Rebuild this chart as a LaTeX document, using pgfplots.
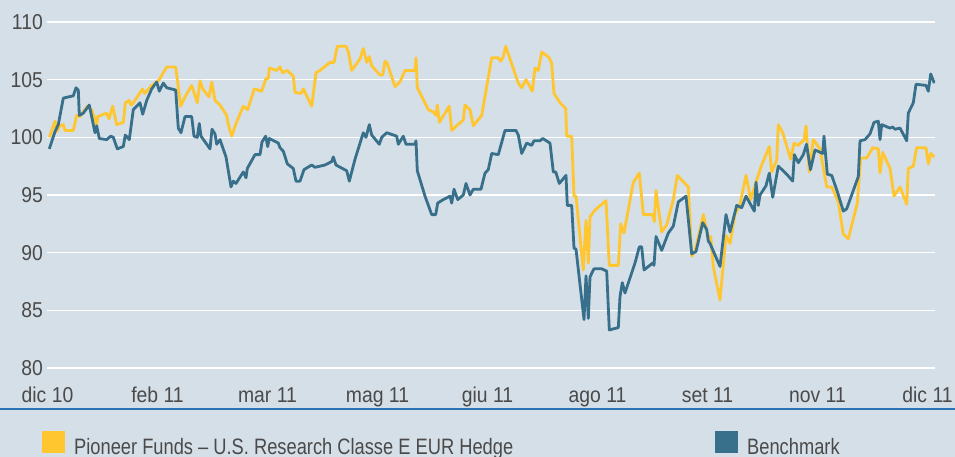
\documentclass[border=0pt]{standalone}
\usepackage{pgfplots}
\pgfplotsset{compat=1.18}
\usepackage{fontspec}
\setmainfont{Liberation Sans}[FakeStretch=0.9]
\newfontfamily\legfam{Liberation Sans}[FakeStretch=0.82]
\definecolor{bg}{HTML}{D5DFE7}
\definecolor{fundyellow}{HTML}{FFC62F}
\definecolor{benchblue}{HTML}{386F8A}
\definecolor{textgray}{HTML}{4A4A4A}
\definecolor{rulecol}{HTML}{2A73B5}
\newcommand{\tickfont}{\fontsize{21.5pt}{24pt}\selectfont}
\newcommand{\legfont}{\legfam\fontsize{22.3pt}{26pt}\selectfont}
\begin{document}
\begin{tikzpicture}
\useasboundingbox (0,0) rectangle (955pt,457pt);
\fill[bg] (0,0) rectangle (955pt,457pt);
\draw[rulecol, line width=1.1pt] (0,48pt) -- (955pt,48pt);
\begin{axis}[
  at={(47.5pt,89pt)}, anchor=south west,
  scale only axis, width=887.5pt, height=346pt,
  xmin=47.5, xmax=935, ymin=80, ymax=110,
  axis line style={draw=none},
  major tick length=0pt, tick style={draw=none},
  ytick={80,85,90,95,100,105,110},
  yticklabels={80,85,90,95,100,105,110},
  xtick={47.5,157.5,267.5,377.5,487.5,597.5,707.5,817.5,927.5},
  xticklabels={dic 10,feb 11,mar 11,mag 11,giu 11,ago 11,set 11,nov 11,dic 11},
  ymajorgrids, grid style={white, line width=1.6pt},
  ticklabel style={font=\tickfont, text=textgray},
  yticklabel style={anchor=east, inner sep=0pt, xshift=-4.5pt},
  xticklabel style={anchor=north, inner sep=0pt, text height=15pt, text depth=0pt, yshift=-19pt},
  legend columns=2,
  legend cell align=left,
  legend image code/.code={\fill[#1, draw=none] (0pt,-11pt) rectangle (23pt,11pt); \path[draw=none, fill=none] (0pt,0pt) -- (32pt,0pt);},
  legend style={at={(axis description cs:-0.0062,-0.2139)}, anchor=west, draw=none, fill=none, inner sep=0pt, column sep=0pt,
    cells={anchor=west},
    nodes={inner sep=0pt, text height=24pt, text depth=0pt, font=\legfont, text=textgray}},
]
\addplot[color=fundyellow, line width=2.8pt, line join=round] coordinates {
(49.3,100.0)(55,101.4)(56.7,100.5)(60,101.0)(63.3,101.1)(65,100.6)(73.3,100.6)(76.7,101.9)(80,101.8)
(87.3,102.7)(91.7,102.4)(96.7,101.1)(97.7,101.8)(106.7,102.1)(109,101.6)(112.7,102.7)(116.7,101.1)
(123.3,101.3)(125.3,103.0)(129.3,103.2)(131,102.8)(133.3,103.0)(142.7,104.2)(144.7,103.8)(151.7,104.5)
(156.7,104.8)(159.3,105.0)(163.3,105.6)(166.7,106.1)(175.7,106.1)(180.7,102.7)(185,103.5)(191.7,104.5)
(197.3,103.0)(200,104.9)(202.7,104.2)(209,103.5)(211.7,104.8)(215,103.2)(220,102.8)(226.7,101.9)
(228.3,101.1)(231.7,100.1)(236,101.2)(243.3,102.7)(247.7,102.4)(251.7,103.5)(254.3,104.2)(261.7,104.0)
(266,105.1)(268.3,105.1)(269.3,106.0)(276.7,105.8)(280,106.1)(282.7,105.6)(287.3,105.8)(293.3,105.3)
(295,103.9)(301,103.8)(303.3,104.2)(311.7,102.7)(316,105.6)(320,105.8)(330,106.5)(334,106.5)
(337.3,107.9)(346,107.9)(348.3,107.4)(351.7,105.8)(360,106.8)(363.3,107.7)(366.7,106.5)(369.3,107.0)
(371.7,106.2)(380,105.4)(382.7,105.4)(385,106.6)(387.3,106.4)(395,104.4)(400,104.8)(405,105.8)
(415,105.8)(416,106.9)(417.3,104.3)(428.3,102.4)(433.3,102.2)(436,101.9)(437.3,102.8)(439.3,101.3)
(449.3,102.7)(451.7,100.6)(456.7,101.0)(463.3,101.5)(465,102.8)(470,102.4)(473.3,101.0)(481.7,101.9)
(491.7,106.9)(498.3,106.9)(500.7,106.6)(503.3,107.0)(505.7,107.9)(516.7,105.1)(518.3,104.7)(521.7,104.3)
(526,105.0)(532.3,104.0)(535,106.0)(538.3,105.8)(541.7,107.4)(549.3,106.9)(551.7,106.4)(554,103.8)
(560,103.0)(565.7,102.5)(566.7,100.1)(571.7,100.1)(574,94.9)(576,94.9)(583.3,88.5)(586,92.8)
(588.3,89.1)(590,93.1)(595,93.7)(606,94.5)(609.3,88.9)(618.3,88.9)(620.7,92.5)(624,91.7)
(633.3,96.1)(639.3,96.9)(643.3,93.3)(652.7,93.3)(654.3,92.7)(656,95.4)(661.7,91.8)(666.7,92.4)
(673.3,94.6)(677.3,96.7)(688.3,95.7)(691.7,89.7)(695,90.1)(703.3,93.3)(708.3,91.3)(710.7,91.4)
(713.3,88.8)(720,85.9)(726,91.5)(730,90.8)(735,93.3)(740,94.2)(746,96.7)(750.7,94.6)
(756.7,96.3)(761.7,97.6)(769.3,99.2)(771.7,97.0)(776.7,98.0)(778.3,101.1)(782.7,100.4)(790.7,98.1)
(794,99.5)(798.3,99.3)(804,99.8)(806,101.0)(809.3,97.0)(813.3,99.8)(820,99.0)(826.7,95.7)
(831.7,95.7)(838.3,94.4)(843.3,91.6)(848.3,91.2)(857.3,94.3)(860.7,98.2)(866.7,98.2)(872.7,99.1)
(878.3,99.0)(880,96.9)(882.7,98.7)(890,97.3)(894,94.9)(900,95.7)(906.7,94.2)(908.3,97.3)
(913.3,97.5)(916.7,99.1)(926,99.1)(928.3,97.7)(930.7,98.6)(934.3,98.3)
};
\addlegendentry{\makebox[641pt][l]{Pioneer Funds \textendash\ U.S. Research Classe E EUR Hedge}}
\addplot[color=benchblue, line width=2.8pt, line join=round] coordinates {
(49.3,99.0)(55,100.5)(58.3,101.1)(63.3,103.4)(68.3,103.5)(73.3,103.6)(76,104.3)(78.3,104.1)
(79.3,101.9)(83.3,102.1)(89.3,102.8)(95,100.4)(96.7,101.0)(99.3,99.9)(106.7,99.8)(110.7,100.1)
(113.3,100.0)(117.3,99.0)(123.3,99.2)(125.3,100.2)(129.3,99.8)(133.3,102.4)(140,103.0)(142.7,102.0)
(146.7,103.2)(151.7,104.2)(156.7,104.8)(159.3,104.0)(163.3,104.7)(166.7,104.3)(175.7,104.1)(178.3,100.8)
(181,100.4)(185,101.8)(191.7,101.8)(194,100.1)(197.3,100.0)(199.3,101.2)(201,100.1)(210,99.0)
(212,100.7)(215,100.3)(216.7,99.4)(220,99.8)(226,98.3)(231,95.7)(233.3,96.2)(236,96.0)
(243.3,97.0)(246,96.5)(247.3,97.3)(255,98.5)(260,98.5)(262,99.6)(265.7,100.1)(267.7,99.2)
(269.3,99.9)(278.3,99.5)(280,99.1)(283.3,98.8)(287.3,97.7)(293.3,97.3)(296,96.2)(300,96.2)
(304,97.2)(311.7,97.6)(315,97.4)(325,97.6)(331.7,97.9)(333.3,98.3)(336,97.6)(346.7,97.1)
(349.3,96.2)(355,98.1)(363.3,100.4)(366,100.0)(369.3,101.1)(371.7,100.2)(379.3,99.4)(381.7,100.0)
(386.7,100.4)(396.7,100.1)(398.3,99.4)(403.3,100.1)(406,99.4)(415,99.4)(416,99.7)(417.3,97.1)
(425,94.9)(431.7,93.3)(435.7,93.3)(437.7,94.3)(443.3,94.6)(450,94.9)(451.7,94.3)(454,95.5)
(457.7,94.6)(463.3,95.0)(466,96.0)(470,95.0)(473.3,95.5)(481,95.5)(485,96.9)(488.3,97.2)
(491.7,98.6)(498.3,98.5)(505,100.6)(516,100.6)(518.3,100.2)(521.7,98.6)(526.7,99.5)(531.7,99.3)
(534,99.7)(540,99.7)(542.7,99.9)(550,99.5)(553.3,97.0)(555.7,97.0)(559.3,96.0)(566,96.7)
(567.3,94.1)(571.7,94.1)(574,90.4)(576,90.3)(584,84.2)(586,88.0)(588.3,84.3)(590,87.9)
(594,88.6)(601.7,88.6)(606.7,88.4)(609.3,83.3)(618.3,83.5)(620,86.2)(622.3,87.4)(625,86.5)
(635,89.1)(639.3,90.5)(641.7,90.5)(644,88.5)(652.7,89.1)(654,88.9)(656,91.4)(661.7,90.2)
(668.3,91.7)(673.3,92.3)(678.3,94.4)(686,94.9)(691.7,89.9)(696,90.1)(702.7,92.6)(706.7,92.0)
(708.3,91.0)(710,90.8)(720,88.8)(726,93.3)(730,91.8)(736.7,94.1)(741.7,93.9)(746,94.9)
(754.3,93.6)(756,96.1)(758.3,94.1)(760,95.0)(766,95.8)(769.3,96.9)(772.7,94.8)(778.3,97.5)
(786.7,96.8)(792.7,96.2)(794.3,98.5)(798.3,97.8)(803.3,98.5)(806.5,99.4)(810.5,97.2)(815,98.9)
(822.7,98.6)(824,100.1)(827.3,96.8)(831.7,96.7)(837.3,95.3)(843.3,93.6)(846.7,93.8)(858.3,96.6)
(860,99.7)(865,99.8)(870,100.3)(874,101.3)(878.3,101.4)(880,99.8)(881.7,101.1)(890,100.8)
(892.7,100.9)(895,100.7)(900,100.8)(906.7,99.7)(908.3,102.1)(913.3,103.0)(916,104.6)(926,104.5)
(928.3,104.0)(930.7,105.5)(934.3,104.7)
};
\addlegendentry{Benchmark}
\end{axis}
\end{tikzpicture}
\end{document}
